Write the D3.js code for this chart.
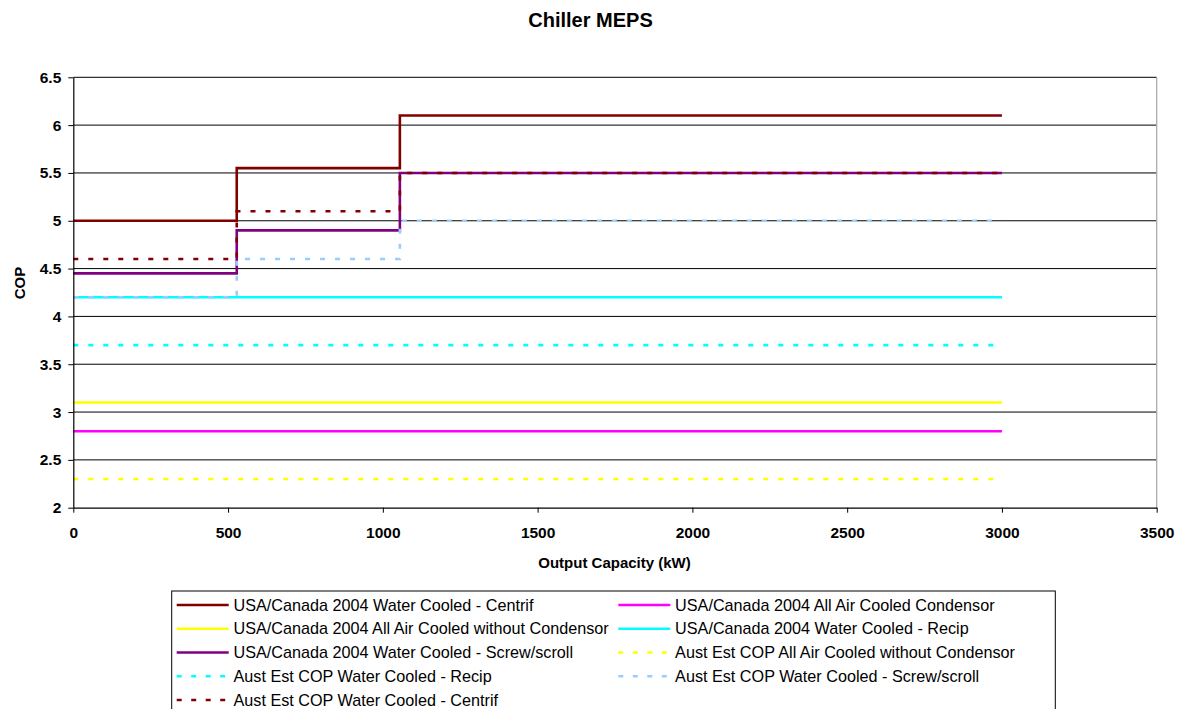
<!DOCTYPE html>
<html>
<head>
<meta charset="utf-8">
<script src="https://cdn.jsdelivr.net/npm/d3@7/dist/d3.min.js"></script>
<style>
  html, body { margin: 0; padding: 0; background: #fff; }
  svg { display: block; font-family: "Liberation Sans", Arial, sans-serif; }
</style>
</head>
<body>
<svg id="chart" width="1183" height="709"></svg>
<script>
// Capacity band edges (kW): <528, 528-1055, >1055, lines drawn to 3000 kW
const bandEdges = [0, 528, 1055, 3000];
const fullRange = [0, 3000];

// Minimum COP per series
const usaCentrif = [5.0, 5.55, 6.1];
const usaAirCondensor = [2.8];
const usaAirNoCondensor = [3.1];
const usaRecip = [4.2];
const usaScrew = [4.45, 4.9, 5.5];
const austAirNoCondensor = [2.3];
const austRecip = [3.7];
const austScrew = [4.2, 4.6, 5.0];
const austCentrif = [4.6, 5.1, 5.5];

const seriesNames = [
  "USA/Canada 2004 Water Cooled - Centrif",
  "USA/Canada 2004 All Air Cooled Condensor",
  "USA/Canada 2004 All Air Cooled without Condensor",
  "USA/Canada 2004 Water Cooled - Recip",
  "USA/Canada 2004 Water Cooled - Screw/scroll",
  "Aust Est COP All Air Cooled without Condensor",
  "Aust Est COP Water Cooled - Recip",
  "Aust Est COP Water Cooled - Screw/scroll",
  "Aust Est COP Water Cooled - Centrif"
];
const seriesValues = [usaCentrif, usaAirCondensor, usaAirNoCondensor, usaRecip, usaScrew,
  austAirNoCondensor, austRecip, austScrew, austCentrif];
const seriesColors = ["#800000", "#FF00FF", "#FFFF00", "#00FFFF", "#800080",
  "#FFFF00", "#00FFFF", "#99CCFF", "#800000"];
const seriesDashed = [false, false, false, false, false, true, true, true, true];

const xTicks = [0, 500, 1000, 1500, 2000, 2500, 3000, 3500];
const yTicks = [2, 2.5, 3, 3.5, 4, 4.5, 5, 5.5, 6, 6.5];

// Turn band values into step points (last value carried to the end)
function stepPoints(vals) {
  const edges = vals.length === 1 ? fullRange : bandEdges;
  return edges.map((e, i) => [e, vals[Math.min(i, vals.length - 1)]]);
}

const svg = d3.select("#chart");
const plot = { left: 73.3, right: 1156.7, top: 77.3, bottom: 507.7 };

const x = d3.scaleLinear().domain([0, 3500]).range([plot.left, plot.right]);
const y = d3.scaleLinear().domain([2, 6.5]).range([plot.bottom, plot.top]);

// Title
svg.append("text")
  .attr("x", 590.5).attr("y", 27)
  .attr("text-anchor", "middle")
  .attr("font-size", 20).attr("font-weight", "bold")
  .text("Chiller MEPS");

// Horizontal gridlines
svg.append("g").selectAll("line")
  .data(yTicks.filter(t => t > 2))
  .join("line")
  .attr("x1", plot.left).attr("x2", plot.right)
  .attr("y1", d => y(d)).attr("y2", d => y(d))
  .attr("stroke", "#000").attr("stroke-width", 1);

// Plot frame (right edge)
svg.append("line")
  .attr("x1", plot.right).attr("x2", plot.right)
  .attr("y1", plot.top).attr("y2", plot.bottom)
  .attr("stroke", "#a6a6a6").attr("stroke-width", 1.2);

// Series
const line = d3.line().x(d => x(d[0])).y(d => y(d[1])).curve(d3.curveStepAfter);
const seriesG = svg.append("g");
seriesValues.forEach((vals, i) => {
  seriesG.append("path")
    .attr("d", line(stepPoints(vals)))
    .attr("fill", "none")
    .attr("stroke", seriesColors[i])
    .attr("stroke-width", 2.6)
    .attr("stroke-dasharray", seriesDashed[i] ? "5,10" : null);
});

// Axes
const xAxis = d3.axisBottom(x).tickValues(xTicks).tickSize(5).tickSizeOuter(0).tickPadding(14)
  .tickFormat(d3.format("d"));
const yAxis = d3.axisLeft(y).tickValues(yTicks).tickSize(5).tickSizeOuter(0).tickPadding(7)
  .tickFormat(d3.format("~g"));

const gx = svg.append("g").attr("transform", `translate(0,${plot.bottom})`).call(xAxis);
const gy = svg.append("g").attr("transform", `translate(${plot.left},0)`).call(yAxis);
[gx, gy].forEach(g => {
  g.select(".domain").attr("stroke", "#000").attr("stroke-width", 1.2);
  g.selectAll(".tick line").attr("stroke", "#000");
  g.selectAll("text").attr("font-size", 15.5).attr("font-weight", "bold")
    .attr("fill", "#000").attr("font-family", "Liberation Sans, Arial, sans-serif");
});

// Axis titles
svg.append("text")
  .attr("x", (plot.left + plot.right) / 2 - 0.5).attr("y", 568)
  .attr("text-anchor", "middle")
  .attr("font-size", 15).attr("font-weight", "bold")
  .text("Output Capacity (kW)");

svg.append("text")
  .attr("transform", "translate(24.5,283) rotate(-90)")
  .attr("text-anchor", "middle")
  .attr("font-size", 15).attr("font-weight", "bold")
  .text("COP");

// Legend
const legend = svg.append("g");
legend.append("rect")
  .attr("x", 171.7).attr("y", 591)
  .attr("width", 1055.3 - 171.7).attr("height", 130)
  .attr("fill", "#fff").attr("stroke", "#000").attr("stroke-width", 1);

const colX = [176.7, 618.3];
const rowY0 = 605, rowStep = 23.75;
seriesNames.forEach((name, i) => {
  const col = i % 2, row = Math.floor(i / 2);
  const cx = colX[col], cy = rowY0 + row * rowStep;
  legend.append("line")
    .attr("x1", cx).attr("x2", cx + 52)
    .attr("y1", cy).attr("y2", cy)
    .attr("stroke", seriesColors[i]).attr("stroke-width", 2.6)
    .attr("stroke-dasharray", seriesDashed[i] ? "5,9.5" : null);
  legend.append("text")
    .attr("x", cx + 56.8).attr("y", cy)
    .attr("dy", "0.35em")
    .attr("font-size", 16.2)
    .attr("fill", "#000")
    .text(name);
});
</script>
</body>
</html>
